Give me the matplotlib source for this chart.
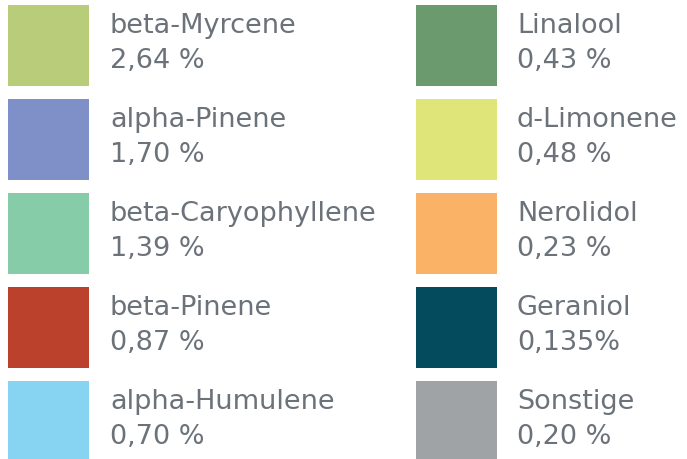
import matplotlib
matplotlib.use("Agg")
import matplotlib.pyplot as plt

names_left = ["beta-Myrcene", "alpha-Pinene", "beta-Caryophyllene", "beta-Pinene", "alpha-Humulene"]
values_left = ["2,64 %", "1,70 %", "1,39 %", "0,87 %", "0,70 %"]
colors_left = ["#b8cc7a", "#7f8fc8", "#86cca8", "#bb412c", "#87d3f2"]

names_right = ["Linalool", "d-Limonene", "Nerolidol", "Geraniol", "Sonstige"]
values_right = ["0,43 %", "0,48 %", "0,23 %", "0,135%", "0,20 %"]
colors_right = ["#6a9a6e", "#e0e57a", "#f9b266", "#044b5d", "#a0a3a5"]

plt.rcParams['font.family'] = ['DejaVu Sans']
txt_color = "#6b7279"

fig = plt.figure(figsize=(6.87, 4.60), dpi=100)
ax = fig.add_axes([0, 0, 1, 1])
ax.set_xlim(0, 687)
ax.set_ylim(460, 0)
ax.axis('off')

row_step = 94
box = 81
columns = [(8, 110, names_left, values_left, colors_left),
           (416, 517, names_right, values_right, colors_right)]

for x0, tx, names, values, colors in columns:
    tops = [6 + i * row_step for i in range(len(names))]
    ax.bar([x0] * len(names), [box] * len(names), bottom=tops, width=box,
           align='edge', color=colors, linewidth=0)
    for top, n, v in zip(tops, names, values):
        ax.text(tx, top + 27, n, fontsize=19.5, color=txt_color, va='baseline', ha='left')
        ax.text(tx, top + 62, v, fontsize=19.5, color=txt_color, va='baseline', ha='left')

fig.savefig("out.png", dpi=100)
